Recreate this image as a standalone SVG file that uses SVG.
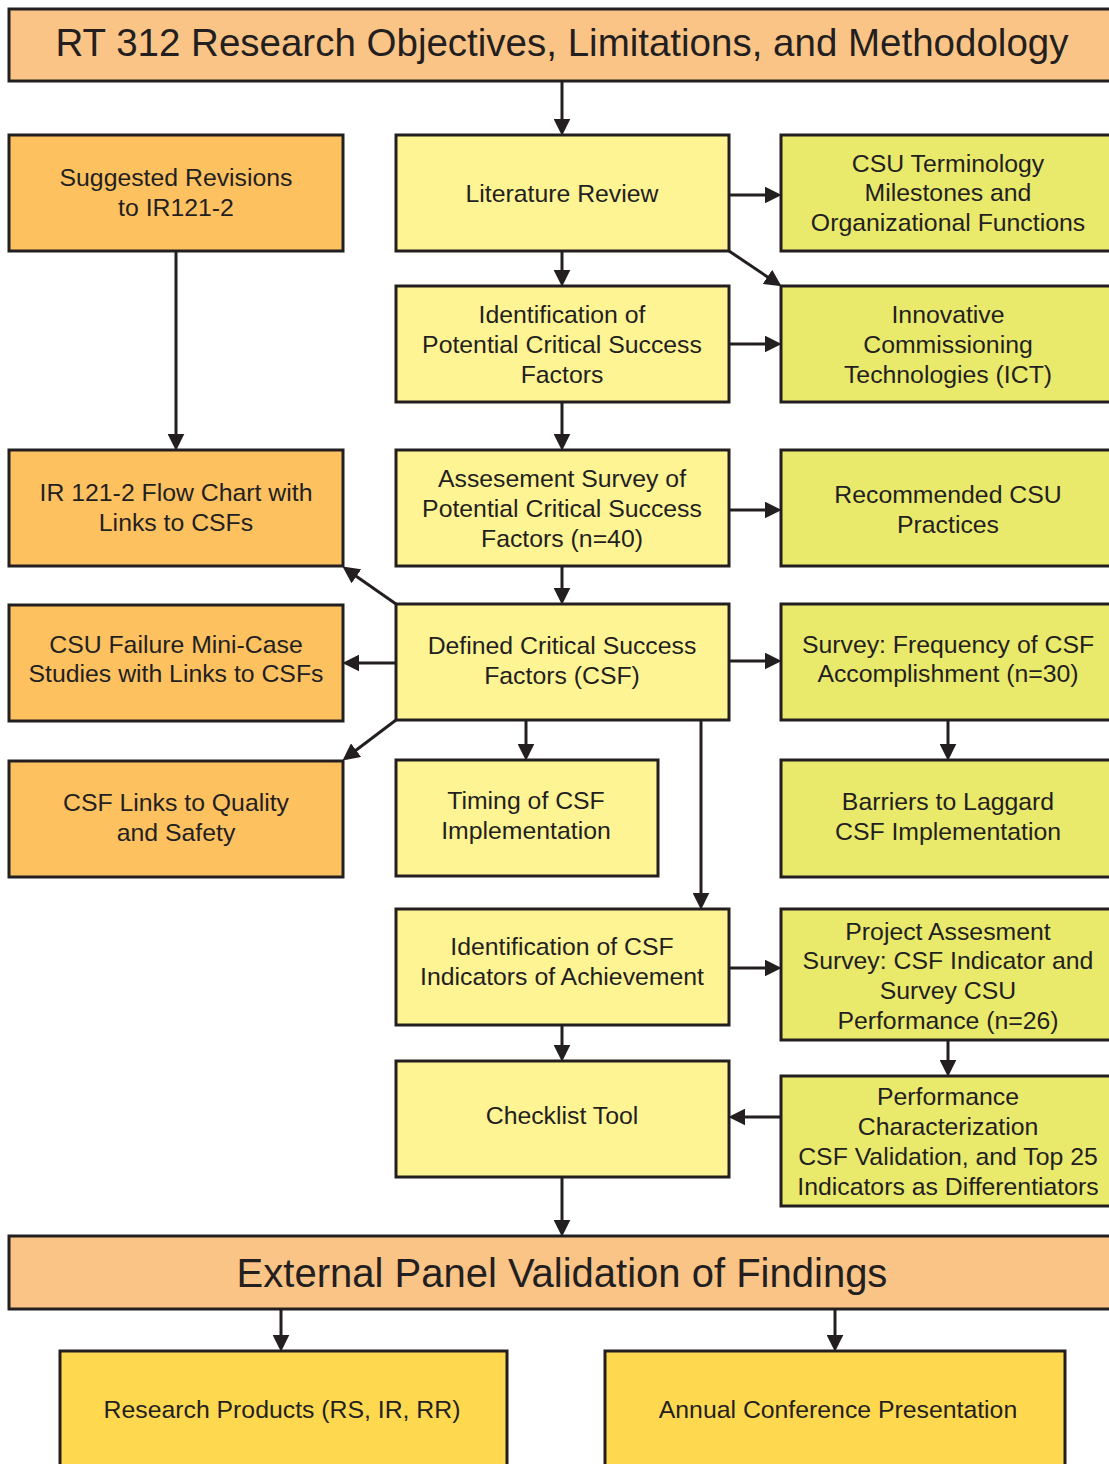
<svg xmlns="http://www.w3.org/2000/svg" width="1109" height="1464" viewBox="0 0 1109 1464">
  <defs>
    <style>
      .box { stroke: #231f20; stroke-width: 3; }
      .banner { fill: #fbc487; }
      .side { fill: #fdc160; }
      .main { fill: #fff494; }
      .out { fill: #e9e96c; }
      .prod { fill: #fed950; }
      text { font-family: "Liberation Sans", Arial, sans-serif; font-size: 24.8px; fill: #231f20; text-anchor: middle; }
      .big { font-size: 38.5px; }
      .big2 { font-size: 40px; }
      .conn { stroke: #231f20; stroke-width: 3; fill: none; marker-end: url(#arrow); }
    </style>
    <marker id="arrow" viewBox="0 0 16 16" markerWidth="17" markerHeight="17" refX="6" refY="8" orient="auto" markerUnits="userSpaceOnUse">
      <path d="M0,0 L16,8 L0,16 z" fill="#231f20"/>
    </marker>
  </defs>

  <!-- connectors -->
  <g id="connectors">
    <path class="conn" d="M562,81 V125"/>
    <path class="conn" d="M562,251 V276"/>
    <path class="conn" d="M562,402 V440"/>
    <path class="conn" d="M562,566 V594"/>
    <path class="conn" d="M729,195 H771"/>
    <path class="conn" d="M729,251 L772.7,280.4"/>
    <path class="conn" d="M729,344 H771"/>
    <path class="conn" d="M729,510 H771"/>
    <path class="conn" d="M729,661 H771"/>
    <path class="conn" d="M176,251 V440"/>
    <path class="conn" d="M396,604 L351.2,572.7"/>
    <path class="conn" d="M396,663 H353"/>
    <path class="conn" d="M396,720 L351,754"/>
    <path class="conn" d="M526,720 V750"/>
    <path class="conn" d="M701,720 V899"/>
    <path class="conn" d="M948,720 V750"/>
    <path class="conn" d="M729,968 H771"/>
    <path class="conn" d="M562,1025 V1051"/>
    <path class="conn" d="M948,1040 V1066"/>
    <path class="conn" d="M781,1117 H739"/>
    <path class="conn" d="M562,1177 V1226"/>
    <path class="conn" d="M281,1309 V1341"/>
    <path class="conn" d="M835,1309 V1341"/>
  </g>

  <!-- banners -->
  <g id="title">
    <rect class="box banner" x="9" y="9" width="1110" height="72"/>
    <text class="big" x="562" y="56">RT 312 Research Objectives, Limitations, and Methodology</text>
  </g>
  <g id="panel">
    <rect class="box banner" x="9" y="1236" width="1110" height="73"/>
    <text class="big2" x="562" y="1287">External Panel Validation of Findings</text>
  </g>

  <!-- left column -->
  <g id="revisions">
    <rect class="box side" x="9" y="135" width="334" height="116"/>
    <text x="176" y="186">Suggested Revisions</text>
    <text x="176" y="216">to IR121-2</text>
  </g>
  <g id="flowchart">
    <rect class="box side" x="9" y="450" width="334" height="116"/>
    <text x="176" y="501">IR 121-2 Flow Chart with</text>
    <text x="176" y="531">Links to CSFs</text>
  </g>
  <g id="minicase">
    <rect class="box side" x="9" y="605" width="334" height="116"/>
    <text x="176" y="653">CSU Failure Mini-Case</text>
    <text x="176" y="682">Studies with Links to CSFs</text>
  </g>
  <g id="quality">
    <rect class="box side" x="9" y="761" width="334" height="116"/>
    <text x="176" y="811">CSF Links to Quality</text>
    <text x="176" y="841">and Safety</text>
  </g>

  <!-- middle column -->
  <g id="literature">
    <rect class="box main" x="396" y="135" width="333" height="116"/>
    <text x="562" y="202">Literature Review</text>
  </g>
  <g id="potential">
    <rect class="box main" x="396" y="286" width="333" height="116"/>
    <text x="562" y="323">Identification of</text>
    <text x="562" y="353">Potential Critical Success</text>
    <text x="562" y="383">Factors</text>
  </g>
  <g id="assessment">
    <rect class="box main" x="396" y="450" width="333" height="116"/>
    <text x="562" y="487">Assesement Survey of</text>
    <text x="562" y="517">Potential Critical Success</text>
    <text x="562" y="547">Factors (n=40)</text>
  </g>
  <g id="defined">
    <rect class="box main" x="396" y="604" width="333" height="116"/>
    <text x="562" y="654">Defined Critical Success</text>
    <text x="562" y="684">Factors (CSF)</text>
  </g>
  <g id="timing">
    <rect class="box main" x="396" y="760" width="262" height="116"/>
    <text x="526" y="809">Timing of CSF</text>
    <text x="526" y="839">Implementation</text>
  </g>
  <g id="indicators">
    <rect class="box main" x="396" y="909" width="333" height="116"/>
    <text x="562" y="955">Identification of CSF</text>
    <text x="562" y="985">Indicators of Achievement</text>
  </g>
  <g id="checklist">
    <rect class="box main" x="396" y="1061" width="333" height="116"/>
    <text x="562" y="1124">Checklist Tool</text>
  </g>

  <!-- right column -->
  <g id="terminology">
    <rect class="box out" x="781" y="135" width="340" height="116"/>
    <text x="948" y="172">CSU Terminology</text>
    <text x="948" y="201">Milestones and</text>
    <text x="948" y="231">Organizational Functions</text>
  </g>
  <g id="ict">
    <rect class="box out" x="781" y="286" width="340" height="116"/>
    <text x="948" y="323">Innovative</text>
    <text x="948" y="353">Commissioning</text>
    <text x="948" y="383">Technologies (ICT)</text>
  </g>
  <g id="practices">
    <rect class="box out" x="781" y="450" width="340" height="116"/>
    <text x="948" y="503">Recommended CSU</text>
    <text x="948" y="533">Practices</text>
  </g>
  <g id="frequency">
    <rect class="box out" x="781" y="604" width="340" height="116"/>
    <text x="948" y="653">Survey: Frequency of CSF</text>
    <text x="948" y="682">Accomplishment (n=30)</text>
  </g>
  <g id="barriers">
    <rect class="box out" x="781" y="760" width="340" height="117"/>
    <text x="948" y="810">Barriers to Laggard</text>
    <text x="948" y="840">CSF Implementation</text>
  </g>
  <g id="project">
    <rect class="box out" x="781" y="909" width="340" height="131"/>
    <text x="948" y="940">Project Assesment</text>
    <text x="948" y="969">Survey: CSF Indicator and</text>
    <text x="948" y="999">Survey CSU</text>
    <text x="948" y="1029">Performance (n=26)</text>
  </g>
  <g id="performance">
    <rect class="box out" x="781" y="1076" width="340" height="130"/>
    <text x="948" y="1105">Performance</text>
    <text x="948" y="1135">Characterization</text>
    <text x="948" y="1165">CSF Validation, and Top 25</text>
    <text x="948" y="1195">Indicators as Differentiators</text>
  </g>

  <!-- products -->
  <g id="products">
    <rect class="box prod" x="60" y="1351" width="447" height="130"/>
    <text x="282" y="1418">Research Products (RS, IR, RR)</text>
  </g>
  <g id="conference">
    <rect class="box prod" x="605" y="1351" width="460" height="130"/>
    <text x="838" y="1418">Annual Conference Presentation</text>
  </g>
</svg>
